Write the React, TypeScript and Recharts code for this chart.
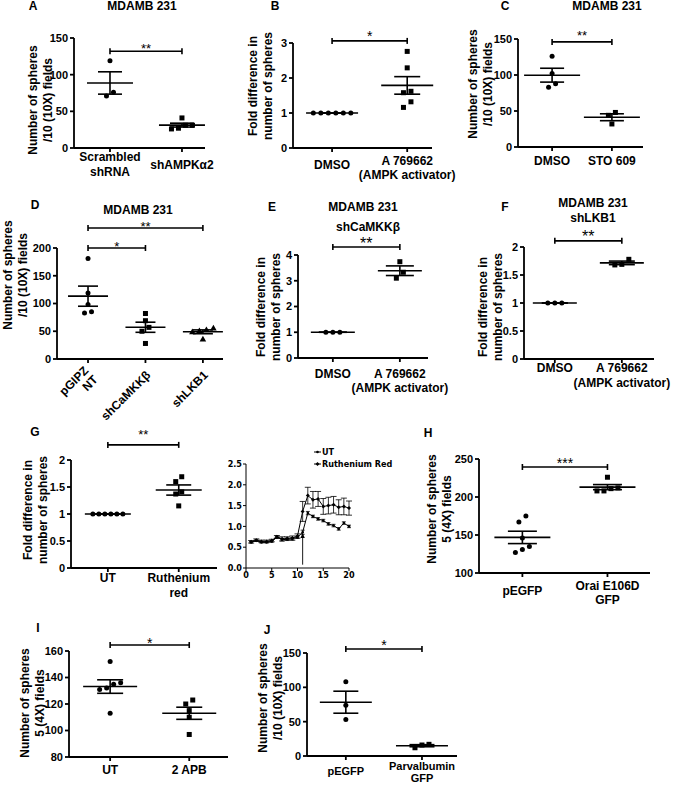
import React from 'react';
import {
  ScatterChart, Scatter, LineChart, Line, ErrorBar, XAxis, YAxis,
  ReferenceLine, ReferenceDot, Legend,
} from 'recharts';

const FONT = '"Liberation Sans", Arial, sans-serif';
const NARROW = '"Liberation Sans Narrow", "DejaVu Sans Condensed", "Liberation Sans", sans-serif';

// A: MDAMB 231, spheres / 10 (10X) fields
const aLabels = ['Scrambled\nshRNA', 'shAMPKα2'];
const aScrambled = [119, 71, 76];
const aShAMPK = [41, 31, 27, 26, 31];

// B: fold difference, A 769662
const bLabels = ['DMSO', 'A 769662\n(AMPK activator)'];
const bDMSO = [1, 1, 1, 1, 1, 1];
const bA769662 = [2.76, 2.29, 1.62, 1.58, 1.32, 1.16];

// C: MDAMB 231, STO 609
const cLabels = ['DMSO', 'STO 609'];
const cDMSO = [126, 102, 88, 83];
const cSTO609 = [48, 44, 32];

// D: MDAMB 231 knockdowns
const dLabels = ['pGIPZ\nNT', 'shCaMKKβ', 'shLKB1'];
const dPGIPZ = [181, 119, 98, 85, 83];
const dShCaMKK = [82, 69, 57, 50, 28];
const dShLKB1 = [53, 51, 49, 56, 36];

// E: shCaMKKβ + A 769662
const eLabels = ['DMSO', 'A 769662\n(AMPK activator)'];
const eDMSO = [1, 1, 1];
const eA769662 = [3.74, 3.33, 3.1];

// F: shLKB1 + A 769662
const fLabels = ['DMSO', 'A 769662\n(AMPK activator)'];
const fDMSO = [1, 1, 1];
const fA769662 = [1.78, 1.69, 1.68];

// G: ruthenium red
const gLabels = ['UT', 'Ruthenium\nred'];
const gUT = [1, 1, 1, 1, 1, 1];
const gRR = [1.69, 1.6, 1.41, 1.37, 1.15];

// G trace
const tMinute = [1, 2, 3, 4, 5, 6, 7, 8, 9, 10, 11, 12, 13, 14, 15, 16, 17, 18, 19, 20];
const tUT = [0.62, 0.66, 0.62, 0.62, 0.64, 0.74, 0.68, 0.69, 0.7, 0.74, 0.86, 1.32, 1.24, 1.18, 1.14, 1.06, 1.02, 0.94, 1.08, 1.0];
const tUTErr = [0.02, 0.02, 0.02, 0.02, 0.02, 0.03, 0.03, 0.03, 0.03, 0.03, 0.05, 0.04, 0.03, 0.03, 0.03, 0.03, 0.03, 0.03, 0.03, 0.03];
const tRR = [0.63, 0.67, 0.64, 0.64, 0.66, 0.75, 0.7, 0.71, 0.72, 0.77, 1.36, 1.74, 1.64, 1.66, 1.48, 1.5, 1.52, 1.46, 1.48, 1.44];
const tRRErr = [0.03, 0.03, 0.03, 0.03, 0.03, 0.03, 0.05, 0.04, 0.05, 0.05, 0.24, 0.2, 0.2, 0.18, 0.19, 0.2, 0.2, 0.18, 0.2, 0.17];

// H: Orai E106D
const hLabels = ['pEGFP', 'Orai E106D\nGFP'];
const hPEGFP = [175, 167, 146, 135, 131, 127];
const hOrai = [226, 211, 208, 208, 212];

// I: 2 APB
const iLabels = ['UT', '2 APB'];
const iUT = [152, 136, 135, 132, 131, 113];
const iAPB = [123, 120, 115, 110, 97];

// J: Parvalbumin
const jLabels = ['pEGFP', 'Parvalbumin\nGFP'];
const jPEGFP = [108, 74, 53];
const jParv = [17, 16, 12];

type Kind = 'circle' | 'square' | 'triangle';
type Sig = { from: number; to: number; y: number; text: string };

const AX = { stroke: '#000', strokeWidth: 1.8 };
const M = { top: 40, right: 45, bottom: 0, left: 5 };
const YW = 32;

const mean = (v: number[]) => v.reduce((s, x) => s + x, 0) / v.length;
const sem = (v: number[]) => {
  const m = mean(v);
  const sd = Math.sqrt(v.reduce((s, x) => s + (x - m) ** 2, 0) / (v.length - 1));
  return sd / Math.sqrt(v.length);
};

// side-by-side offsets (px) for points that would overlap
function spread(values: number[], ppuY: number, step: number, gap = 6.5) {
  const order = values.map((_, i) => i).sort((a, b) => values[a] - values[b]);
  const dx = values.map(() => 0);
  let cl: number[] = [];
  const flush = () => {
    cl.forEach((k, j) => { dx[k] = (j - (cl.length - 1) / 2) * step; });
    cl = [];
  };
  order.forEach((k) => {
    if (cl.length && (values[k] - values[cl[cl.length - 1]]) * ppuY > gap) flush();
    cl.push(k);
  });
  flush();
  return dx;
}

const markerShape = (kind: Kind) => (p: any) => {
  const { cx, cy } = p;
  if (kind === 'square') return <rect x={cx - 2.5} y={cy - 2.5} width={5} height={5} fill="#000" />;
  if (kind === 'triangle') {
    return <polygon points={`${cx},${cy - 3.2} ${cx + 3.3},${cy + 2.5} ${cx - 3.3},${cy + 2.5}`} fill="#000" />;
  }
  return <circle cx={cx} cy={cy} r={2.5} fill="#000" />;
};

const CatTick = (props: any) => {
  const { x, y, payload, labels, labelDy, lineH, singleDy, rotate, size = 12 } = props;
  const lines: string[] = (labels[payload.value] ?? '').split('\n');
  const axisY = y - 4;
  const st = { fontFamily: FONT, fontSize: size, fontWeight: 700, fill: '#000' };
  if (rotate) {
    return (
      <text transform={`translate(${x + 3},${axisY + labelDy}) rotate(-45)`} textAnchor="end" {...st}>
        {lines.map((l, i) => (
          <tspan key={i} x={0} y={(i - (lines.length - 1) / 2) * lineH} dominantBaseline="central">{l}</tspan>
        ))}
      </text>
    );
  }
  const first = lines.length === 1 && singleDy != null ? singleDy : labelDy;
  return (
    <text textAnchor="middle" {...st}>
      {lines.map((l, i) => (
        <tspan key={i} x={x} y={axisY + first + i * lineH} dominantBaseline="central">{l}</tspan>
      ))}
    </text>
  );
};

const SigLabel = (props: any) => {
  const { viewBox, text, gap, size } = props;
  const cx = viewBox.x + viewBox.width / 2;
  const cy = viewBox.y - gap;
  return (
    <text x={cx} y={cy + size * 0.58} textAnchor="middle" fontFamily={FONT} fontSize={size} fill="#000">{text}</text>
  );
};

type PanelProps = {
  left: number; top: number; w: number; h: number;
  xDomain: [number, number]; yDomain: [number, number]; yTicks: number[];
  labels: string[]; series: number[][]; kinds: Kind[]; sigs: Sig[];
  meanHalf: number; semHalf: number; step?: number;
  labelDy: number; lineH: number; singleDy?: number; rotate?: boolean; labelSize?: number;
  sigGap: number; sigSize: number;
};

function DotPanel(p: PanelProps) {
  const xh = p.rotate ? 70 : 50;
  const ppuX = p.w / (p.xDomain[1] - p.xDomain[0]);
  const ppuY = p.h / (p.yDomain[1] - p.yDomain[0]);
  const tickH = 3 / ppuY;
  const line = { stroke: '#000', strokeWidth: 1.6, ifOverflow: 'visible' as const };

  return (
    <div style={{ position: 'absolute', left: p.left - M.left - YW, top: p.top - M.top }}>
      <ScatterChart width={p.w + M.left + YW + M.right} height={p.h + M.top + xh} margin={M}>
        <XAxis
          type="number" dataKey="x" domain={p.xDomain} allowDataOverflow
          ticks={p.labels.map((_, i) => i)} interval={0} height={xh}
          tickSize={4} tickMargin={0} axisLine={AX} tickLine={AX}
          tick={
            <CatTick
              labels={p.labels} labelDy={p.labelDy} lineH={p.lineH} singleDy={p.singleDy}
              rotate={p.rotate} size={p.labelSize ?? 12}
            />
          }
        />
        <YAxis
          type="number" dataKey="y" domain={p.yDomain} allowDataOverflow
          ticks={p.yTicks} interval={0} width={YW} tickSize={4} tickMargin={2}
          axisLine={AX} tickLine={AX}
          tick={{ fill: '#000', fontSize: 11, fontWeight: 700, fontFamily: FONT }}
        />
        {p.series.map((vals, i) => {
          const dx = spread(vals, ppuY, p.step ?? 7);
          const pts = vals.map((v, k) => ({ x: i + dx[k] / ppuX, y: v }));
          return <Scatter key={`s${i}`} data={pts} shape={markerShape(p.kinds[i])} isAnimationActive={false} />;
        })}
        {p.series.map((vals, i) => {
          const m = mean(vals);
          const s = sem(vals);
          const hm = p.meanHalf / ppuX;
          const hs = p.semHalf / ppuX;
          return (
            <React.Fragment key={`e${i}`}>
              <ReferenceLine {...line} segment={[{ x: i - hm, y: m }, { x: i + hm, y: m }]} />
              <ReferenceLine {...line} segment={[{ x: i - hs, y: m + s }, { x: i + hs, y: m + s }]} />
              <ReferenceLine {...line} segment={[{ x: i - hs, y: m - s }, { x: i + hs, y: m - s }]} />
              <ReferenceLine {...line} segment={[{ x: i, y: m - s }, { x: i, y: m + s }]} />
            </React.Fragment>
          );
        })}
        {p.sigs.map((g, i) => (
          <React.Fragment key={`g${i}`}>
            <ReferenceLine
              {...line}
              segment={[{ x: g.from, y: g.y }, { x: g.to, y: g.y }]}
              label={<SigLabel text={g.text} gap={p.sigGap} size={p.sigSize} />}
            />
            <ReferenceLine {...line} segment={[{ x: g.from, y: g.y - tickH }, { x: g.from, y: g.y + tickH }]} />
            <ReferenceLine {...line} segment={[{ x: g.to, y: g.y - tickH }, { x: g.to, y: g.y + tickH }]} />
          </React.Fragment>
        ))}
      </ScatterChart>
    </div>
  );
}

const traceData = tMinute.map((m, i) => ({ m, ut: tUT[i], utErr: tUTErr[i], rr: tRR[i], rrErr: tRRErr[i] }));

const utDot = (p: any) => <circle cx={p.cx} cy={p.cy} r={1.3} fill="#000" />;
const rrDot = (p: any) => (
  <polygon points={`${p.cx},${p.cy - 2} ${p.cx + 2},${p.cy} ${p.cx},${p.cy + 2} ${p.cx - 2},${p.cy}`} fill="#000" />
);
const arrowHead = (p: any) => (
  <polygon points={`${p.cx},${p.cy} ${p.cx + 2.2},${p.cy + 5} ${p.cx - 2.2},${p.cy + 5}`} fill="#000" />
);

const TraceLegend = () => (
  <div style={{ fontFamily: NARROW, fontSize: 9, fontWeight: 700, lineHeight: '12px', color: '#000', whiteSpace: 'nowrap' }}>
    <div style={{ display: 'flex', alignItems: 'center' }}>
      <svg width={7} height={6}><line x1={0} y1={3} x2={7} y2={3} stroke="#000" /><circle cx={3.5} cy={3} r={1.3} /></svg>
      <span style={{ marginLeft: 1 }}>UT</span>
    </div>
    <div style={{ display: 'flex', alignItems: 'center' }}>
      <svg width={7} height={6}><line x1={0} y1={3} x2={7} y2={3} stroke="#000" /><polygon points="3.5,1 5.5,3 3.5,5 1.5,3" /></svg>
      <span style={{ marginLeft: 1 }}>Ruthenium Red</span>
    </div>
  </div>
);

function TracePanel() {
  const tickStyle = { fill: '#000', fontSize: 9, fontWeight: 700, fontFamily: NARROW };
  const thin = { stroke: '#000', strokeWidth: 1 };
  return (
    <div style={{ position: 'absolute', left: 246 - 30, top: 464 - 22 }}>
      <LineChart width={175} height={144} data={traceData} margin={{ top: 22, right: 42, bottom: 2, left: 8 }}>
        <XAxis
          type="number" dataKey="m" domain={[0, 20]} ticks={[0, 5, 10, 15, 20]} interval={0}
          height={16} tickSize={3} tickMargin={1} axisLine={thin} tickLine={thin} tick={tickStyle}
        />
        <YAxis
          type="number" domain={[0, 2.5]} ticks={[0, 0.5, 1, 1.5, 2, 2.5]} interval={0}
          width={22} tickSize={3} tickMargin={1} axisLine={thin} tickLine={thin} tick={tickStyle}
          tickFormatter={(v: number) => v.toFixed(1)}
        />
        <Legend
          layout="horizontal" verticalAlign="middle" align="center"
          wrapperStyle={{ left: 98, top: 4, width: 80 }} content={<TraceLegend />}
        />
        <Line dataKey="rr" stroke="#000" strokeWidth={1} dot={rrDot} isAnimationActive={false}>
          <ErrorBar dataKey="rrErr" width={3} stroke="#000" strokeWidth={0.8} />
        </Line>
        <Line dataKey="ut" stroke="#000" strokeWidth={1} dot={utDot} isAnimationActive={false}>
          <ErrorBar dataKey="utErr" width={2} stroke="#000" strokeWidth={0.8} />
        </Line>
        <ReferenceLine segment={[{ x: 11, y: 0.08 }, { x: 11, y: 0.82 }]} stroke="#000" strokeWidth={0.9} />
        <ReferenceDot x={11} y={0.84} shape={arrowHead} />
      </LineChart>
    </div>
  );
}

const Txt = ({ x, y, children, size = 12 }: { x: number; y: number; children: React.ReactNode; size?: number }) => (
  <div style={{
    position: 'absolute', left: x, top: y, transform: 'translate(-50%, -50%)',
    whiteSpace: 'nowrap', fontSize: size, fontWeight: 700, lineHeight: 1,
  }}>{children}</div>
);

const YTitle = ({ x, y, lines }: { x: number; y: number; lines: string[] }) => (
  <div style={{
    position: 'absolute', left: x, top: y, transform: 'translate(-50%, -50%) rotate(-90deg)',
    whiteSpace: 'nowrap', textAlign: 'center', fontSize: 12, fontWeight: 700, lineHeight: '14.5px',
  }}>
    {lines.map((l) => <div key={l}>{l}</div>)}
  </div>
);

const SPH10 = ['Number of spheres', '/10 (10X) fields'];
const FOLD = ['Fold difference in', 'number of spheres'];
const SPH5 = ['Number of spheres', '5 (4X) fields'];

export default function App() {
  return (
    <div style={{
      position: 'absolute', left: 0, top: 0, width: 683, height: 785, background: '#fff',
      overflow: 'hidden', fontFamily: FONT, color: '#000',
    }}>
      <Txt x={33} y={6}>A</Txt>
      <Txt x={142} y={6}>MDAMB 231</Txt>
      <Txt x={275} y={6}>B</Txt>
      <Txt x={505} y={6}>C</Txt>
      <Txt x={607} y={6}>MDAMB 231</Txt>
      <Txt x={35} y={205}>D</Txt>
      <Txt x={138} y={210}>MDAMB 231</Txt>
      <Txt x={272} y={207}>E</Txt>
      <Txt x={363} y={207}>MDAMB 231</Txt>
      <Txt x={368} y={227}>shCaMKKβ</Txt>
      <Txt x={505} y={207}>F</Txt>
      <Txt x={593} y={203}>MDAMB 231</Txt>
      <Txt x={593} y={218}>shLKB1</Txt>
      <Txt x={35} y={432}>G</Txt>
      <Txt x={428} y={433}>H</Txt>
      <Txt x={38} y={628}>I</Txt>
      <Txt x={267} y={630}>J</Txt>

      <YTitle x={40} y={100} lines={SPH10} />
      <YTitle x={260} y={86} lines={FOLD} />
      <YTitle x={480} y={84} lines={SPH10} />
      <YTitle x={15} y={275} lines={SPH10} />
      <YTitle x={268} y={307} lines={FOLD} />
      <YTitle x={490} y={307} lines={FOLD} />
      <YTitle x={35} y={510} lines={FOLD} />
      <YTitle x={439} y={509} lines={SPH5} />
      <YTitle x={32} y={703} lines={SPH5} />
      <YTitle x={270} y={698} lines={SPH10} />

      <DotPanel
        left={74} top={38} w={131} h={110} xDomain={[-0.5, 1.32]} yDomain={[0, 150]} yTicks={[0, 50, 100, 150]}
        labels={aLabels} series={[aScrambled, aShAMPK]} kinds={['circle', 'square']}
        sigs={[{ from: 0, to: 1, y: 132, text: '**' }]} meanHalf={23} semHalf={12}
        labelDy={9} lineH={15} singleDy={17} sigGap={6} sigSize={13}
      />
      <DotPanel
        left={293} top={43} w={139} h={105} xDomain={[-0.52, 1.33]} yDomain={[0, 3]} yTicks={[0, 1, 2, 3]}
        labels={bLabels} series={[bDMSO, bA769662]} kinds={['circle', 'square']}
        sigs={[{ from: 0, to: 1, y: 3.06, text: '*' }]} meanHalf={26} semHalf={13} step={7.5}
        labelDy={13} lineH={14} singleDy={17} sigGap={8} sigSize={14}
      />
      <DotPanel
        left={518} top={39} w={125} h={108} xDomain={[-0.57, 1.52]} yDomain={[0, 150]} yTicks={[0, 50, 100, 150]}
        labels={cLabels} series={[cDMSO, cSTO609]} kinds={['circle', 'square']}
        sigs={[{ from: 0, to: 1, y: 146, text: '**' }]} meanHalf={28} semHalf={12}
        labelDy={14} lineH={14} sigGap={9} sigSize={13}
      />
      <DotPanel
        left={57} top={248} w={166} h={111} xDomain={[-0.54, 2.35]} yDomain={[0, 200]} yTicks={[0, 50, 100, 150, 200]}
        labels={dLabels} series={[dPGIPZ, dShCaMKK, dShLKB1]} kinds={['circle', 'square', 'triangle']}
        sigs={[{ from: 0, to: 2, y: 236, text: '**' }, { from: 0, to: 1, y: 200, text: '*' }]}
        meanHalf={20} semHalf={10} rotate labelDy={14} lineH={13} sigGap={5} sigSize={13}
      />
      <DotPanel
        left={298} top={255} w={130} h={103} xDomain={[-0.52, 1.42]} yDomain={[0, 4]} yTicks={[0, 1, 2, 3, 4]}
        labels={eLabels} series={[eDMSO, eA769662]} kinds={['circle', 'square']}
        sigs={[{ from: 0, to: 1, y: 4.31, text: '**' }]} meanHalf={22} semHalf={14}
        labelDy={16} lineH={14} sigGap={7} sigSize={16}
      />
      <DotPanel
        left={524} top={247} w={130} h={112} xDomain={[-0.46, 1.48]} yDomain={[0, 2]} yTicks={[0, 0.5, 1, 1.5, 2]}
        labels={fLabels} series={[fDMSO, fA769662]} kinds={['circle', 'square']}
        sigs={[{ from: 0, to: 1, y: 2.11, text: '**' }]} meanHalf={22} semHalf={13}
        labelDy={9} lineH={15} sigGap={8} sigSize={16}
      />
      <DotPanel
        left={71} top={460} w={146} h={108} xDomain={[-0.52, 1.54]} yDomain={[0, 2]} yTicks={[0, 0.5, 1, 1.5, 2]}
        labels={gLabels} series={[gUT, gRR]} kinds={['circle', 'square']}
        sigs={[{ from: 0, to: 1, y: 2.28, text: '**' }]} meanHalf={23} semHalf={12.5} step={6}
        labelDy={10} lineH={15} sigGap={13} sigSize={13}
      />
      <TracePanel />
      <DotPanel
        left={479} top={459} w={171} h={114} xDomain={[-0.51, 1.5]} yDomain={[100, 250]} yTicks={[100, 150, 200, 250]}
        labels={hLabels} series={[hPEGFP, hOrai]} kinds={['circle', 'square']}
        sigs={[{ from: 0, to: 1, y: 239.5, text: '***' }]} meanHalf={28} semHalf={14.5}
        labelDy={13} lineH={14} singleDy={18} sigGap={7} sigSize={14}
      />
      <DotPanel
        left={69} top={651} w={159} h={106} xDomain={[-0.52, 1.49]} yDomain={[80, 160]} yTicks={[80, 100, 120, 140, 160]}
        labels={iLabels} series={[iUT, iAPB]} kinds={['circle', 'square']}
        sigs={[{ from: 0, to: 1, y: 164.5, text: '*' }]} meanHalf={27} semHalf={13}
        labelDy={13} lineH={14} sigGap={5} sigSize={14}
      />
      <DotPanel
        left={307} top={653} w={150} h={103} xDomain={[-0.51, 1.46]} yDomain={[0, 150]} yTicks={[0, 50, 100, 150]}
        labels={jLabels} series={[jPEGFP, jParv]} kinds={['circle', 'square']}
        sigs={[{ from: 0, to: 1, y: 155.8, text: '*' }]} meanHalf={26} semHalf={12.5}
        labelDy={9.5} lineH={12.5} singleDy={15} labelSize={11} sigGap={7} sigSize={14}
      />
    </div>
  );
}
